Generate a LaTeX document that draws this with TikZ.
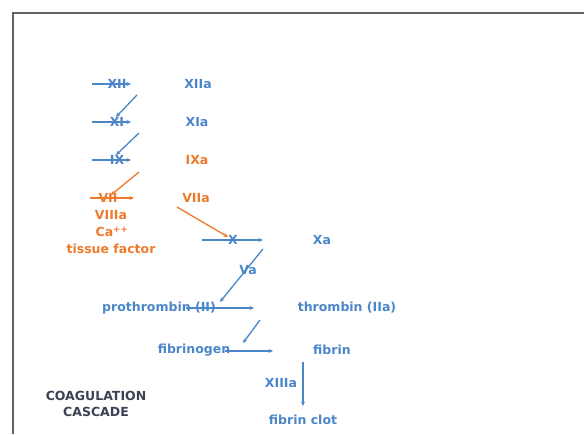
\documentclass[tikz,border=0pt]{standalone}
\usepackage{fontspec}
\setmainfont{DejaVu Sans}
\usetikzlibrary{arrows.meta}
\definecolor{cblue}{HTML}{4A86C8}
\definecolor{corange}{HTML}{EE7A2C}
\definecolor{cslate}{HTML}{3A4254}
\begin{document}
\begin{tikzpicture}[x=1pt,y=-1pt,
  lbl/.style={font=\bfseries\fontsize{12.5}{15}\selectfont, inner sep=0pt, text=cblue},
  olbl/.style={lbl, text=corange},
  tlbl/.style={lbl, text=cslate},
  conn/.style={draw=cblue, line width=1.3pt, -{Stealth[length=4.5pt,width=4pt]}},
  oconn/.style={conn, draw=corange}]
\useasboundingbox (0,0) rectangle (584,434);
\fill[white] (0,0) rectangle (584,434);
% slide frame
\draw[line width=2.5pt, draw=black!62] (13,434) -- (13,13) -- (584,13);

% intrinsic pathway factors
\node[lbl] (f12) at (117,84) {XII};
\node[lbl] (f12a) at (198,84) {XIIa};
\node[lbl] (f11) at (117,122) {XI};
\node[lbl] (f11a) at (197,122) {XIa};
\node[lbl] (f9) at (117,160) {IX};
\node[olbl] (f9a) at (197,160) {IXa};
\node[olbl] (f7) at (108,198) {VII};
\node[olbl] (f7a) at (196,198) {VIIa};
\node[olbl] (f8a) at (111,215) {VIIIa};
\node[olbl] (ca) at (112,232) {Ca\textsuperscript{++}};
\node[olbl] (tf) at (111,249) {tissue factor};

% common pathway
\node[lbl] (f10) at (233,240) {X};
\node[lbl] (f10a) at (322,240) {Xa};
\node[lbl] (f5a) at (248,270) {Va};
\node[lbl] (pt) at (159,308) {prothrombin (II)};
\node[lbl] (th) at (347,308) {thrombin (IIa)};
\node[lbl] (fg) at (194,350) {fibrinogen};
\node[lbl] (fb) at (332,350) {fibrin};
\node[lbl] (f13a) at (281,383) {XIIIa};
\node[lbl] (clot) at (303,420) {fibrin clot};

\node[tlbl] (t1) at (96,396) {COAGULATION};
\node[tlbl] (t2) at (96,412) {CASCADE};

% activation arrows through each factor
\coordinate (a12) at (92,84);  \coordinate (b12) at (131,84);
\coordinate (a11) at (92,122); \coordinate (b11) at (131,122);
\coordinate (a9) at (92,160);  \coordinate (b9) at (131,160);
\coordinate (a7) at (90,198);  \coordinate (b7) at (134,198);
\coordinate (a10) at (202,240); \coordinate (b10) at (263,240);
\coordinate (apt) at (186,308); \coordinate (bpt) at (254,308);
\coordinate (afg) at (225,351); \coordinate (bfg) at (273,351);
\draw[conn] (a12) -- (b12);
\draw[conn] (a11) -- (b11);
\draw[conn] (a9) -- (b9);
\draw[oconn] (a7) -- (b7);
\draw[conn] (a10) -- (b10);
\draw[conn] (apt) -- (bpt);
\draw[conn] (afg) -- (bfg);

% enzyme feedback arrows
\coordinate (c1) at (137,95);  \coordinate (d1) at (116,117);
\coordinate (c2) at (139,133); \coordinate (d2) at (116,155);
\coordinate (c3) at (139,172); \coordinate (d3) at (111,195);
\coordinate (c4) at (177,207); \coordinate (d4) at (228,237);
\coordinate (c5) at (263,249); \coordinate (d5) at (220,302);
\coordinate (c6) at (260,320); \coordinate (d6) at (243,343);
\draw[conn] (c1) -- (d1);
\draw[conn] (c2) -- (d2);
\draw[oconn] (c3) -- (d3);
\draw[oconn] (c4) -- (d4);
\draw[conn] (c5) -- (d5);
\draw[conn] (c6) -- (d6);

% cross-linking
\coordinate (v1) at (303,362); \coordinate (v2) at (303,406);
\draw[conn] (v1) -- (v2);
\end{tikzpicture}
\end{document}
